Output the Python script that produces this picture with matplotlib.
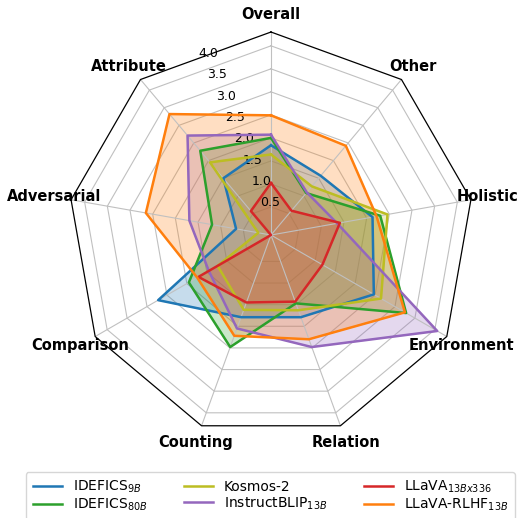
import numpy as np
import matplotlib
matplotlib.use("Agg")
import matplotlib.pyplot as plt

# Categories, counter-clockwise from the top
categories = ["Overall", "Attribute", "Adversarial", "Comparison", "Counting",
              "Relation", "Environment", "Holistic", "Other"]

models = ["IDEFICS$_{9B}$", "IDEFICS$_{80B}$", "Kosmos-2",
          "InstructBLIP$_{13B}$", "LLaVA$_{13Bx336}$", "LLaVA-RLHF$_{13B}$"]

idefics_9b = [1.84, 1.50, 0.66, 2.72, 1.79, 1.79, 2.47, 2.13, 1.57]
idefics_80b = [2.00, 2.28, 1.19, 1.95, 2.48, 1.47, 3.28, 2.30, 1.08]
kosmos_2 = [1.64, 1.95, 0.17, 1.23, 1.62, 1.63, 2.65, 2.46, 1.27]
instructblip = [2.07, 2.71, 1.69, 1.45, 2.05, 2.48, 4.06, 1.35, 1.10]
llava = [1.02, 0.57, -0.11, 1.71, 1.45, 1.43, 1.18, 1.41, 0.58]
llava_rlhf = [2.49, 3.32, 2.65, 1.74, 2.22, 2.30, 3.25, 2.22, 2.42]

series = [idefics_9b, idefics_80b, kosmos_2, instructblip, llava, llava_rlhf]
colors = ["tab:blue", "tab:green", "tab:olive", "tab:purple", "tab:red", "tab:orange"]

r_ticks = [0.5, 1.0, 1.5, 2.0, 2.5, 3.0, 3.5, 4.0]
R_MIN, R_MAX = -0.11, 4.3


def closed(vals):
    return list(vals) + [vals[0]]


fig = plt.figure(figsize=(5.17, 5.18), dpi=100)
ax = fig.add_axes([0.1315, 0.1544, 0.7853, 0.7838], projection="polar")
ax.set_theta_offset(np.pi / 2)

n = len(categories)
theta = np.linspace(0, 2 * np.pi, n, endpoint=False)
theta_c = closed(theta)

ax.set_ylim(R_MIN, R_MAX)
ax.set_rgrids(r_ticks, labels=[f"{t:.1f}" for t in r_ticks], fontsize=9)
ax.yaxis.grid(False)
ax.xaxis.grid(True, color="#c0c0c0", linewidth=0.8)
ax.spines["polar"].set_visible(False)

# polygon grid and frame
for t in r_ticks:
    ax.plot(theta_c, [t] * (n + 1), color="#c0c0c0", linewidth=0.8, zorder=0.5)
ax.plot(theta_c, [R_MAX] * (n + 1), color="black", linewidth=0.9, clip_on=False)

for name, vals, c in zip(models, series, colors):
    ax.plot(theta_c, closed(vals), color=c, linewidth=1.8, label=name)
    ax.fill(theta_c, closed(vals), color=c, alpha=0.25)

ax.set_xticks(theta)
ax.set_xticklabels(categories, fontsize=10.5, fontweight="bold")
ax.tick_params(axis="x", pad=2)

fig.legend(loc="upper center", bbox_to_anchor=(0.523, 0.089), ncol=3,
           fontsize=10, handlelength=2.1, columnspacing=2.6,
           labelspacing=0.1, borderaxespad=0, borderpad=0.5)

fig.savefig("out.png", dpi=100)
